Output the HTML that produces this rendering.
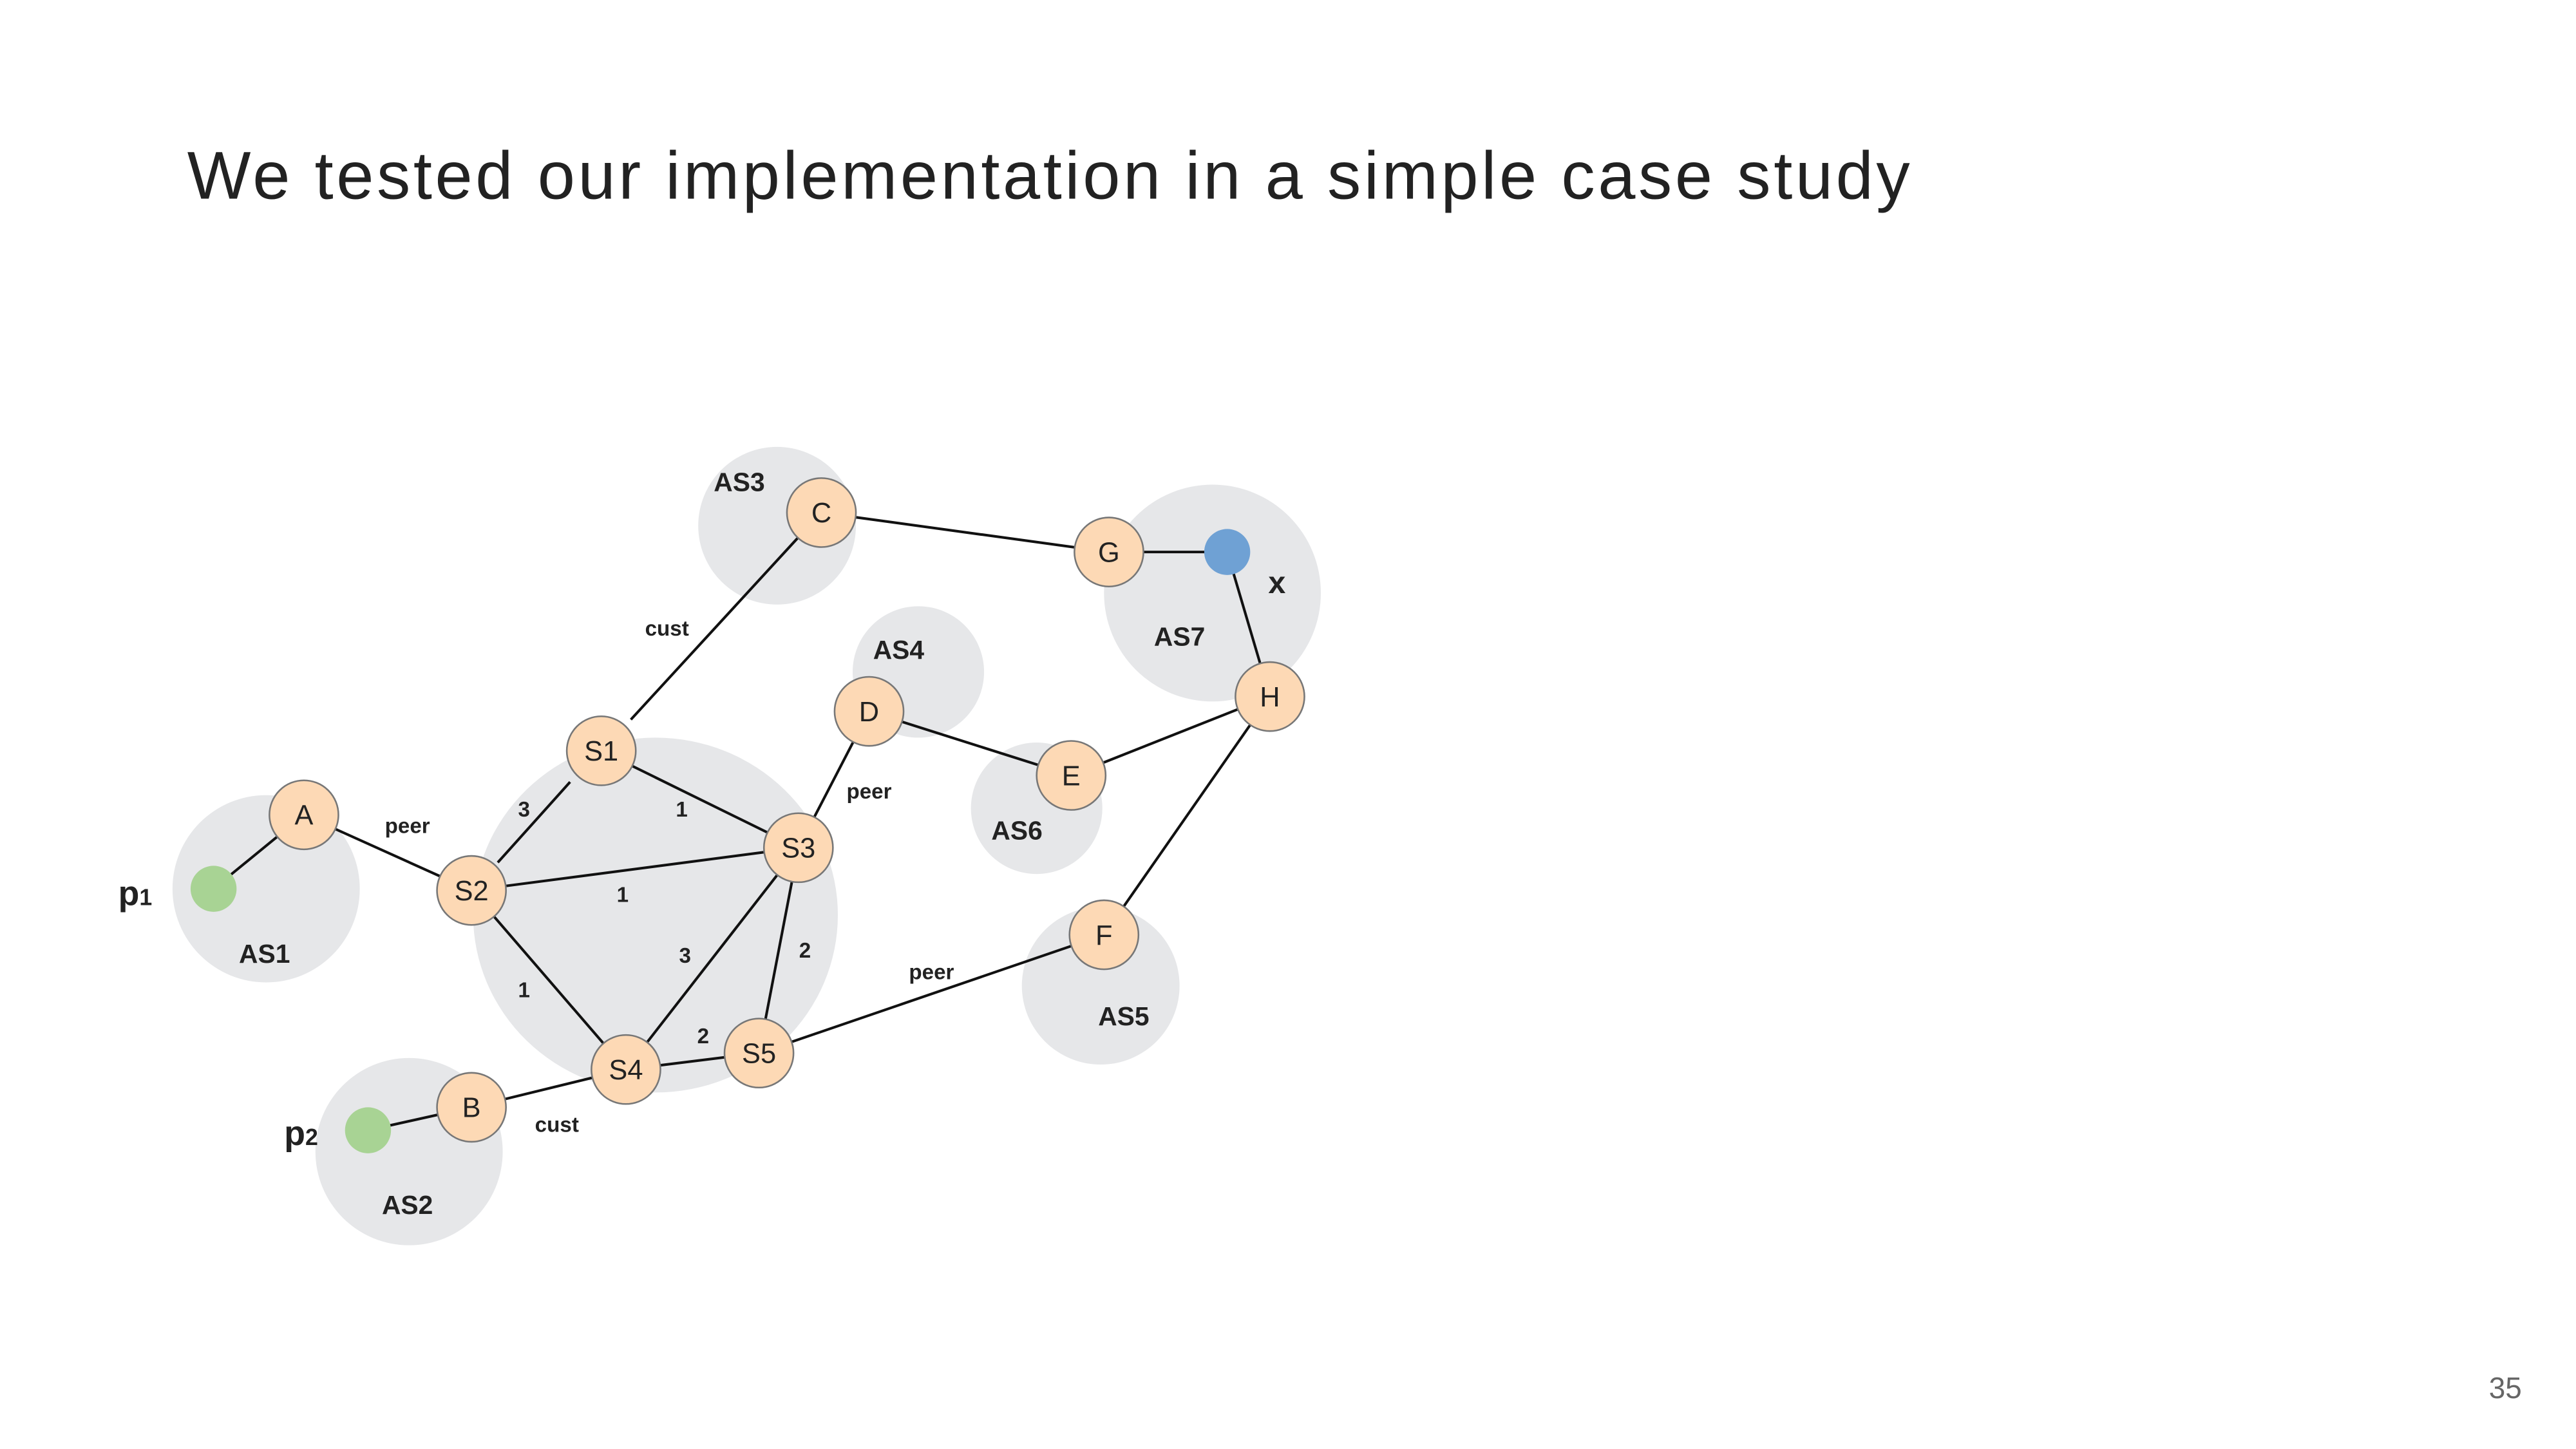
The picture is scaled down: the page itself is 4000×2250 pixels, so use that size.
<!DOCTYPE html>
<html><head><meta charset="utf-8"><style>
html,body{margin:0;padding:0;background:#fff;}
svg{display:block;}
text{font-family:"Liberation Sans","DejaVu Sans",sans-serif;fill:#222;}
</style></head><body>
<svg width="4000" height="2250" viewBox="0 0 1568 882" xmlns="http://www.w3.org/2000/svg">
<rect width="1568" height="882" fill="#fff"/>
<text x="114" y="121" font-size="41" fill="#222" letter-spacing="1.8">We tested our implementation in a simple case study</text>
<text x="1515" y="851" font-size="18" fill="#666" style="fill:#666">35</text>
<g fill="#e6e7e9">
<circle cx="473" cy="320" r="48"/>
<circle cx="559" cy="409" r="40"/>
<circle cx="738" cy="361" r="66"/>
<circle cx="631" cy="492" r="40"/>
<circle cx="162" cy="541" r="57"/>
<ellipse cx="399" cy="557" rx="111" ry="108"/>
<circle cx="670" cy="600" r="48"/>
<circle cx="249" cy="701" r="57"/>
</g>
<g stroke="#111" stroke-width="1.6" fill="none">
<line x1="486" y1="327" x2="384" y2="438"/>
<line x1="500" y1="312" x2="675" y2="336"/>
<line x1="675" y1="336" x2="747" y2="336"/>
<line x1="747" y1="336" x2="773" y2="424"/>
<line x1="773" y1="424" x2="652" y2="472"/>
<line x1="773" y1="424" x2="672" y2="569"/>
<line x1="529" y1="433" x2="652" y2="472"/>
<line x1="529" y1="433" x2="486" y2="516"/>
<line x1="366" y1="457" x2="486" y2="516"/>
<line x1="347" y1="476" x2="303" y2="525"/>
<line x1="287" y1="542" x2="486" y2="516"/>
<line x1="287" y1="542" x2="381" y2="651"/>
<line x1="486" y1="516" x2="381" y2="651"/>
<line x1="486" y1="516" x2="462" y2="641"/>
<line x1="381" y1="651" x2="462" y2="641"/>
<line x1="462" y1="641" x2="672" y2="569"/>
<line x1="287" y1="674" x2="381" y2="651"/>
<line x1="185" y1="496" x2="287" y2="542"/>
<line x1="185" y1="496" x2="130" y2="541"/>
<line x1="287" y1="674" x2="224" y2="688"/>
</g>
<g fill="#fdd9b5" stroke="#777" stroke-width="1">
<circle cx="500" cy="312" r="21"/>
<circle cx="675" cy="336" r="21"/>
<circle cx="773" cy="424" r="21"/>
<circle cx="529" cy="433" r="21"/>
<circle cx="652" cy="472" r="21"/>
<circle cx="366" cy="457" r="21"/>
<circle cx="185" cy="496" r="21"/>
<circle cx="287" cy="542" r="21"/>
<circle cx="486" cy="516" r="21"/>
<circle cx="672" cy="569" r="21"/>
<circle cx="381" cy="651" r="21"/>
<circle cx="462" cy="641" r="21"/>
<circle cx="287" cy="674" r="21"/>
</g>
<circle cx="747" cy="336" r="14" fill="#6fa1d4"/>
<circle cx="130" cy="541" r="14" fill="#a8d394"/>
<circle cx="224" cy="688" r="14" fill="#a8d394"/>
<g font-size="17" text-anchor="middle">
<text x="500" y="318">C</text>
<text x="675" y="342">G</text>
<text x="773" y="430">H</text>
<text x="529" y="439">D</text>
<text x="652" y="478">E</text>
<text x="366" y="463">S1</text>
<text x="185" y="502">A</text>
<text x="287" y="548">S2</text>
<text x="486" y="522">S3</text>
<text x="672" y="575">F</text>
<text x="381" y="657">S4</text>
<text x="462" y="647">S5</text>
<text x="287" y="680">B</text>
</g>
<g font-size="16" font-weight="bold" text-anchor="middle">
<text x="450" y="299">AS3</text>
<text x="547" y="401">AS4</text>
<text x="718" y="393">AS7</text>
<text x="619" y="511">AS6</text>
<text x="161" y="586">AS1</text>
<text x="684" y="624">AS5</text>
<text x="248" y="739">AS2</text>
</g>
<g font-size="13" font-weight="bold" text-anchor="middle">
<text x="406" y="387">cust</text>
<text x="529" y="486">peer</text>
<text x="248" y="507">peer</text>
<text x="567" y="596">peer</text>
<text x="339" y="689">cust</text>
<text x="319" y="497">3</text>
<text x="415" y="497">1</text>
<text x="379" y="549">1</text>
<text x="417" y="586">3</text>
<text x="490" y="583">2</text>
<text x="319" y="607">1</text>
<text x="428" y="635">2</text>
</g>
<g font-weight="bold">
<text x="72" y="551" font-size="21">p<tspan font-size="14">1</tspan></text>
<text x="173" y="697" font-size="21">p<tspan font-size="14">2</tspan></text>
<text x="772" y="361" font-size="19">x</text>
</g>
</svg>
</body></html>
